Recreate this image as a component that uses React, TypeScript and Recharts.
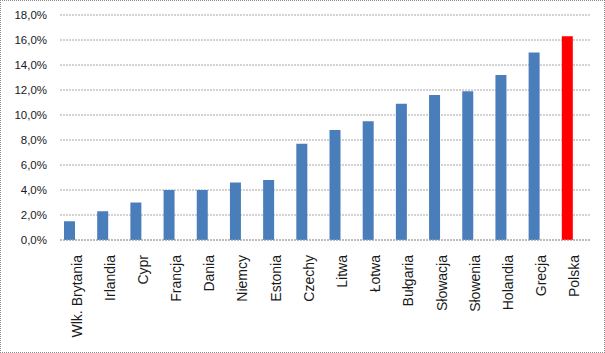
import { BarChart, Bar, XAxis, YAxis, CartesianGrid, Cell } from 'recharts';

const countries = [
  'Wlk. Brytania', 'Irlandia', 'Cypr', 'Francja', 'Dania', 'Niemcy', 'Estonia', 'Czechy',
  'Litwa', 'Łotwa', 'Bułgaria', 'Słowacja', 'Słowenia', 'Holandia', 'Grecja', 'Polska',
];
const shares = [1.5, 2.3, 3.0, 4.0, 4.0, 4.6, 4.8, 7.7, 8.8, 9.5, 10.9, 11.6, 11.9, 13.2, 15.0, 16.3];
const highlighted = 'Polska';
const yTicks = [0, 2, 4, 6, 8, 10, 12, 14, 16, 18];

const data = countries.map((name, i) => ({ name, value: shares[i], empty: null }));

const fmtPct = (v: number) => `${v.toFixed(1).replace('.', ',')}%`;

function CountryTick(props: any) {
  const { x, y, payload } = props;
  return (
    <g transform={`translate(${x},${y + 7}) rotate(-90)`}>
      <text
        x={0}
        y={0}
        dy="0.35em"
        textAnchor="end"
        fill="#1a1a1a"
        fontSize={14}
        fontFamily="Liberation Sans, Arial, sans-serif"
      >
        {payload.value}
      </text>
    </g>
  );
}

export default function App() {
  return (
    <div
      style={{
        position: 'absolute',
        left: 0,
        top: 0,
        width: 605,
        height: 353,
        background: '#fff',
        boxSizing: 'border-box',
        border: '1px dotted #8a8a8a',
      }}
    >
      <BarChart
        width={603}
        height={351}
        data={data}
        margin={{ top: 14, right: 13, bottom: 0, left: 0 }}
        barSize={11}
        barGap={4}
      >
        <CartesianGrid vertical={false} stroke="#a6a6a6" strokeDasharray="2 1" />
        <XAxis
          dataKey="name"
          interval={0}
          height={112}
          tick={<CountryTick />}
          tickLine={false}
          axisLine={{ stroke: '#a6a6a6', strokeDasharray: '2 1' }}
        />
        <YAxis
          width={59}
          domain={[0, 18]}
          ticks={yTicks}
          tickFormatter={fmtPct}
          axisLine={false}
          tickLine={false}
          tickSize={0}
          tickMargin={13}
          tick={{ fill: '#1a1a1a', fontSize: 11.5, fontFamily: 'Liberation Sans, Arial, sans-serif' }}
        />
        <Bar dataKey="value" isAnimationActive={false}>
          {data.map((d) => (
            <Cell key={d.name} fill={d.name === highlighted ? '#ff0000' : '#4a7ebb'} />
          ))}
        </Bar>
        <Bar dataKey="empty" isAnimationActive={false} fill="transparent" />
      </BarChart>
    </div>
  );
}
